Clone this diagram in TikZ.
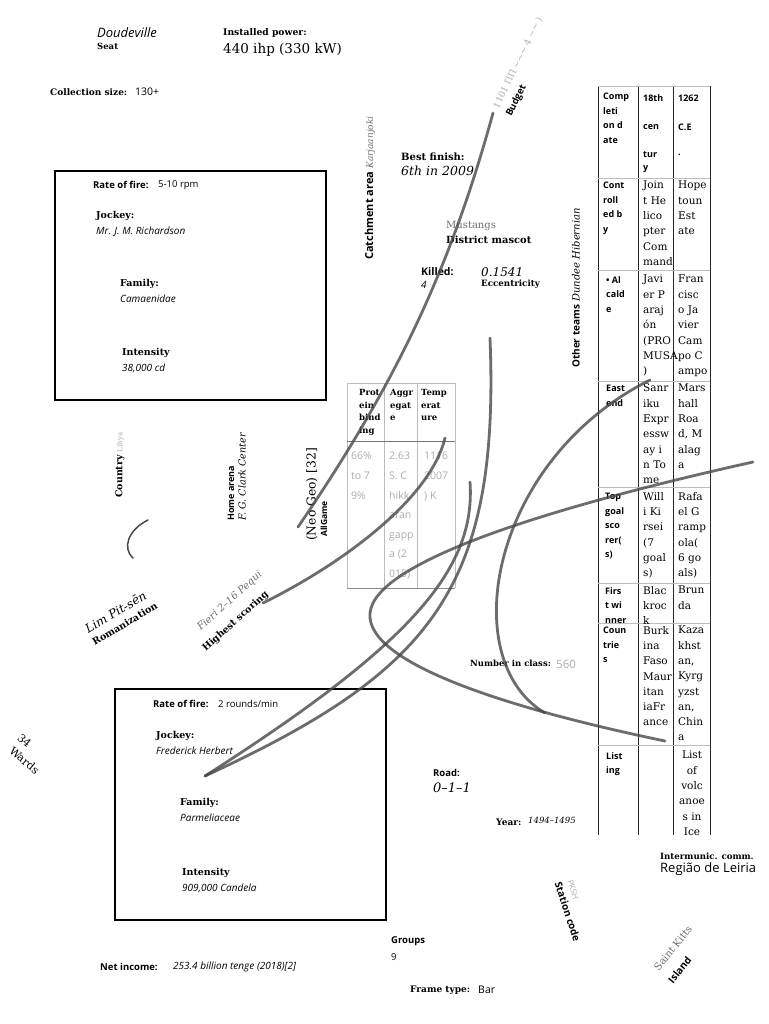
\documentclass[tikz,border=0pt]{standalone}
\usepackage{fontspec}
\setmainfont{DejaVu Serif}
\setsansfont{Open Sans}
\newcommand\fsz[2]{\fontsize{#1}{#2}\selectfont}
\definecolor{curvegray}{HTML}{484848}
\definecolor{faint}{HTML}{ADADAD}
\definecolor{midgray}{HTML}{6E6E6E}
\definecolor{tabline}{HTML}{BDBDBD}
\tikzset{
  lab/.style={inner sep=0pt, anchor=west},
  curve/.style={draw=curvegray, line width=2.8pt, opacity=0.8, line cap=round},
  cellA/.style={inner sep=0pt, anchor=north west, align=left, font=\sffamily\bfseries\fsz{9}{14.5}},
  cellB/.style={inner sep=0pt, anchor=north west, align=left, font=\fsz{10.5}{15.3}},
  hdr/.style={inner sep=0pt, anchor=north west, align=left, font=\bfseries\fsz{8.5}{12.7}},
  hand/.style={inner sep=0pt, anchor=north west, align=left, text=faint, font=\sffamily\fsz{10.5}{19.6}},
  blab/.style={lab, font=\sffamily\bfseries\fsz{9.5}{11}},
  slab/.style={lab, font=\bfseries\fsz{9.5}{11}},
  ival/.style={lab, font=\sffamily\itshape\fsz{10}{12}},
}
\begin{document}
\begin{tikzpicture}[x=1pt,y=-1pt]
\useasboundingbox (0,0) rectangle (768,1024);
\fill[white] (0,0) rectangle (768,1024);

% ---------- top texts
\node[lab, font=\sffamily\itshape\fsz{13}{15}] (doud) at (97,33) {Doudeville};
\node[lab, font=\bfseries\fsz{8.5}{10}] (seat) at (97,46) {Seat};
\node[lab, font=\bfseries\fsz{9.2}{11}] (ipl) at (223,33) {Installed power:};
\node[lab, font=\fsz{13.5}{16}] (ipv) at (223,50) {440 ihp (330 kW)};
\node[lab, font=\bfseries\fsz{9}{11}] (csl) at (50,92) {Collection size:};
\node[lab, font=\sffamily\fsz{10.5}{12}] (csv) at (135,92) {130+};

\node[lab, rotate=64, text=faint, font=\fsz{9}{11}] (budf) at (496,108) {1101 ΠΠ ∼∼∼ 4 ∼∼ )};
\node[lab, rotate=64, font=\sffamily\bfseries\fsz{9.5}{11}] (budget) at (509,116) {Budget};

% ---------- box 1
\draw[line width=2.3pt] (55,171) rectangle (326,400);
\node[blab] (rf1l) at (93,185) {Rate of fire:};
\node[lab, font=\sffamily\fsz{9.5}{11}] (rf1v) at (158,185) {5-10 rpm};
\node[slab] (j1l) at (96,216) {Jockey:};
\node[ival] (j1v) at (96,232) {Mr. J. M. Richardson};
\node[slab] (f1l) at (120,284) {Family:};
\node[ival] (f1v) at (120,299) {Camaenidae};
\node[slab] (i1l) at (122,353) {Intensity};
\node[ival] (i1v) at (122,368) {38,000 cd};

% ---------- box 2
\draw[line width=1.6pt] (115,689) rectangle (386,920);
\node[blab] (rf2l) at (153,704) {Rate of fire:};
\node[lab, font=\sffamily\fsz{9.5}{11}] (rf2v) at (218,704) {2 rounds/min};
\node[slab] (j2l) at (156,736) {Jockey:};
\node[ival] (j2v) at (156,751) {Frederick Herbert};
\node[slab] (f2l) at (180,803) {Family:};
\node[ival] (f2v) at (180,818) {Parmeliaceae};
\node[slab] (i2l) at (182,873) {Intensity};
\node[ival] (i2v) at (182,888) {909,000 Candela};

% ---------- middle texts
\node[lab, rotate=90] (catch) at (370,260) {{\sffamily\bfseries\fsz{11}{13}Catchment area} {\itshape\color{midgray}\fsz{9}{11}Karjaanjoki}};
\node[lab, font=\bfseries\fsz{10}{12}] (bfl) at (401,157) {Best finish:};
\node[lab, font=\itshape\fsz{12.5}{15}] (bfv) at (401,171) {6th in 2009};
\node[lab, text=midgray, font=\fsz{10}{12}] (must) at (446,226) {Mustangs};
\node[lab, font=\bfseries\fsz{9.9}{12}] (dm) at (446,240) {District mascot};
\node[lab, font=\sffamily\bfseries\fsz{10.5}{12}] (kill) at (421,272) {Killed:};
\node[lab, font=\sffamily\itshape\fsz{10}{12}] (killv) at (421,285) {4};
\node[lab, font=\itshape\fsz{12}{14}] (ecc) at (481,272) {0.1541};
\node[lab, font=\bfseries\fsz{8.7}{10}] (eccl) at (481,284) {Eccentricity};
\node[lab, rotate=90] (other) at (576,368) {{\sffamily\bfseries\fsz{10}{12}Other teams} {\itshape\fsz{10}{12}Dundee Hibernian}};

% ---------- left rotated texts
\node[lab, rotate=90] (country) at (120,498) {{\bfseries\fsz{9.5}{11}Country} {\color{faint}\fsz{7}{8}Libya}};
\node[lab, rotate=90, font=\sffamily\bfseries\fsz{9}{11}] (home) at (231,521) {Home arena};
\node[lab, rotate=90, font=\itshape\fsz{9.6}{11}] (clark) at (242,521) {F. G. Clark Center};
\node[lab, rotate=90, font=\fsz{12.3}{14}] (neo) at (312,541) {(Neo Geo) [32]};
\node[lab, rotate=90, font=\sffamily\bfseries\fsz{8.5}{10}] (allg) at (324,537) {AllGame};
\node[lab, rotate=31, font=\itshape\fsz{12}{14}] (lim) at (86,630) {Lim Pit-sēn};
\node[lab, rotate=31, font=\bfseries\fsz{9.5}{11}] (roman) at (93,643) {Romanization};
\node[lab, rotate=42, text=midgray, font=\itshape\fsz{10}{12}] (fieri) at (199,629) {Fieri 2–16 Pequi};
\node[lab, rotate=42, font=\bfseries\fsz{9.5}{11}] (hsc) at (204,650) {Highest scoring};
\node[lab, rotate=-40, font=\fsz{11}{13}] (n34) at (19,736) {34};
\node[lab, rotate=-40, font=\fsz{11}{13}] (wards) at (11,749) {Wards};

% ---------- small table
\foreach \x in {347,384,417,455} \draw[tabline, line width=0.8pt] (\x,383) -- (\x,588);
\draw[tabline, line width=0.8pt] (347,383) -- (455,383);
\draw[black!55, line width=0.9pt] (347,441) -- (455,441);
\draw[black!45, line width=0.9pt] (347,588) -- (455,588);
\node[hdr] (h1) at (359,389) {Prot\\ein\\bind\\ing};
\node[hdr] (h2) at (390,389) {Aggr\\egat\\e};
\node[hdr] (h3) at (421,389) {Temp\\erat\\ure};
\node[hand] (b1) at (351,452) {66\%\\to 7\\9\%};
\node[hand] (b2) at (389,452) {2.63\\S. C\\hikk\\aran\\gapp\\a (2\\015)};
\node[hand] (b3) at (424,452) {1116\\2007\\) K};

% ---------- right table
\foreach \x in {598,638,673,710} \draw[black!85, line width=0.9pt] (\x,86) -- (\x,835);
\foreach \y in {86,178,270,381,487,583,623,745} \draw[tabline, line width=0.8pt] (598,\y) -- (710,\y);
\node[cellA] (t11) at (603,93) {Comp\\leti\\on d\\ate};
\node[lab, font=\sffamily\bfseries\fsz{9}{11}] (t12a) at (643,98) {18th};
\node[lab, font=\sffamily\bfseries\fsz{9}{11}] (t12b) at (643,127) {cen};
\node[lab, font=\sffamily\bfseries\fsz{9}{11}] (t12c) at (643,155) {tur};
\node[lab, font=\sffamily\bfseries\fsz{9}{11}] (t12d) at (643,169) {y};
\node[lab, font=\sffamily\bfseries\fsz{9}{11}] (t13a) at (678,98) {1262};
\node[lab, font=\sffamily\bfseries\fsz{9}{11}] (t13b) at (678,127) {C.E};
\node[lab, font=\sffamily\bfseries\fsz{9}{11}] (t13c) at (678,155) {.};
\node[cellA] (t21) at (603,182) {Cont\\roll\\ed b\\y};
\node[cellB] (t22) at (643,181) {Join\\t He\\lico\\pter\\Com\\mand};
\node[cellB] (t23) at (678,181) {Hope\\toun\\Est\\ate};
\node[cellA] (t31) at (606,276) {• Al\\cald\\e};
\node[cellB] (t32) at (643,275) {Javi\\er P\\araj\\ón\\(PRO\\MUSA\\)};
\node[cellB] (t33) at (678,275) {Fran\\cisc\\o Ja\\vier\\Cam\\po C\\ampo};
\node[cellA] (t41) at (606,385) {East\\end};
\node[cellB] (t42) at (643,384) {Sanr\\iku\\Expr\\essw\\ay i\\n To\\me};
\node[cellB] (t43) at (678,384) {Mars\\hall\\Roa\\d, M\\alag\\a};
\node[cellA] (t51) at (605,493) {Top\\goal\\sco\\rer(\\s)};
\node[cellB] (t52) at (643,492) {Will\\i Ki\\rsei\\(7\\goal\\s)};
\node[cellB] (t53) at (678,492) {Rafa\\el G\\ramp\\ola(\\6 go\\als)};
\node[cellA] (t61) at (605,587) {Firs\\t wi\\nner};
\node[cellB] (t62) at (643,586) {Blac\\kroc\\k};
\node[cellB] (t63) at (678,586) {Brun\\da};
\node[cellA] (t71) at (603,627) {Coun\\trie\\s};
\node[cellB] (t72) at (643,626) {Burk\\ina\\Faso\\Maur\\itan\\iaFr\\ance};
\node[cellB] (t73) at (678,626) {Kaza\\khst\\an,\\Kyrg\\yzst\\an,\\Chin\\a};
\node[cellA] (t81) at (606,752) {List\\ing};
\node[cellB, anchor=north, align=center] (t83) at (692,751) {List\\of\\volc\\anoe\\s in\\Ice};

% ---------- lower texts
\node[lab, font=\bfseries\fsz{8.5}{10}] (ncl) at (470,663) {Number in class:};
\node[lab, text=faint, font=\sffamily\fsz{11.5}{13}] (ncv) at (556,664) {560};
\node[blab] (road) at (433,773) {Road:};
\node[lab, font=\itshape\fsz{13}{15}] (roadv) at (433,788) {0–1–1};
\node[lab, font=\bfseries\fsz{9}{11}] (year) at (496,822) {Year:};
\node[lab, font=\itshape\fsz{8.5}{10}] (yearv) at (528,820) {1494–1495};
\node[lab, font=\bfseries\fsz{8.6}{10}] (imc) at (660,856) {Intermunic. comm.};
\node[lab, font=\sffamily\fsz{13}{15}] (imcv) at (660,869) {Região de Leiria};
\node[lab, rotate=-72, text=faint, font=\sffamily\fsz{8}{10}] (stf) at (570,880) {PKSH};
\node[lab, rotate=-72, font=\sffamily\bfseries\fsz{10}{12}] (station) at (558,882) {Station code};
\node[lab, rotate=51, text=midgray, font=\fsz{10}{12}] (saint) at (656,969) {Saint Kitts};
\node[lab, rotate=51, font=\sffamily\bfseries\fsz{10}{12}] (island) at (670,982) {Island};
\node[blab] (groups) at (391,941) {Groups};
\node[lab, font=\sffamily\fsz{9.5}{11}] (groupsv) at (391,957) {9};
\node[blab] (netl) at (100,967) {Net income:};
\node[ival] (netv) at (173,967) {253.4 billion tenge (2018)[2]};
\node[lab, font=\bfseries\fsz{9}{11}] (frame) at (410,990) {Frame type:};
\node[lab, font=\sffamily\fsz{10.5}{12}] (framev) at (478,990) {Bar};

% ---------- curves
\coordinate (fend) at (205,776);
\draw[curve] (298,527) .. controls (395,385) and (450,270) .. (493,113);
\draw[curve] (263,603) .. controls (340,565) and (430,500) .. (445,438);
\draw[curve] (490,338) .. controls (500,590) and (430,672) .. (fend);
\draw[curve] (470,482) .. controls (476,570) and (410,645) .. (fend);
\draw[curve] (753,462) .. controls (560,505) and (375,560) .. (370,613) .. controls (365,666) and (525,712) .. (665,741);
\draw[curve] (650,380) .. controls (490,460) and (455,660) .. (545,713);
\draw[draw=curvegray, line width=1.5pt, line cap=round] (148,520) .. controls (128,530) and (122,548) .. (133,558);
\end{tikzpicture}
\end{document}
